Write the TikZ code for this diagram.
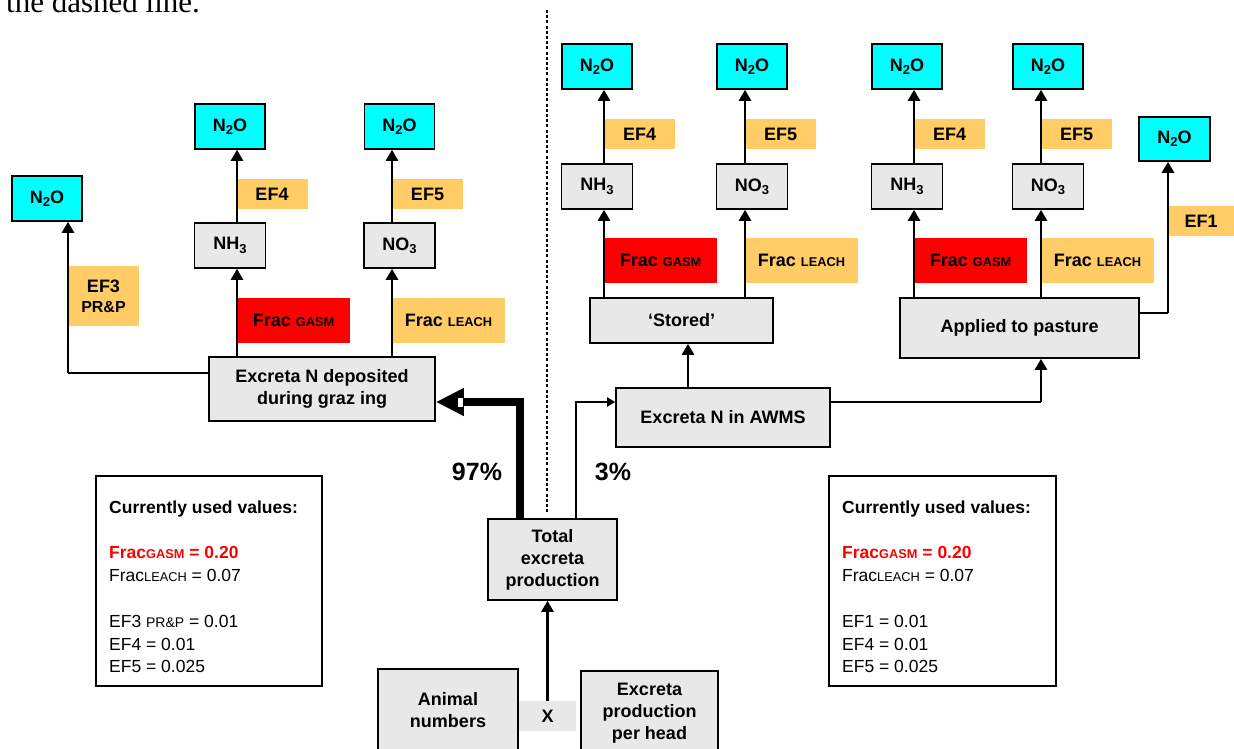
\documentclass[tikz,border=0pt]{standalone}
\usepackage{fontspec}
\setmainfont{Liberation Sans}
\newfontfamily\seriffont{Liberation Serif}
\usetikzlibrary{arrows.meta}
\definecolor{cyanbox}{HTML}{00FFFF}
\definecolor{greybox}{HTML}{E8E8E8}
\definecolor{orangebox}{HTML}{FFCC66}
\definecolor{redbox}{HTML}{FF0000}
\definecolor{redtext}{HTML}{FF0000}
\newcommand\lsub[1]{\raisebox{-0.35ex}{\fontsize{13}{13}\selectfont #1}}
\newcommand\smcap[1]{{\fontsize{12.8}{12.8}\selectfont #1}}
\begin{document}
\begin{tikzpicture}[x=1pt,y=-1pt,
  base/.style={font=\fontsize{18}{22}\selectfont\bfseries, inner sep=0pt, align=center, text=black},
  gasbox/.style={base, draw=black, line width=1.6pt, fill=cyanbox, minimum width=70pt, minimum height=45pt},
  greyb/.style={base, draw=black, line width=1.6pt, fill=greybox},
  chem/.style={greyb, minimum width=71pt, minimum height=45pt},
  lab/.style={base, fill=orangebox, minimum height=30pt, minimum width=71pt},
  fraclab/.style={base, minimum height=45pt, minimum width=113pt},
  conn/.style={line width=2.6pt, -{Triangle[width=12pt,length=11pt]}},
  hline/.style={line width=1.7pt},
  valtext/.style={font=\fontsize{17.5}{21}\selectfont, anchor=base west, inner sep=0pt},
  valbox/.style={draw=black, line width=1.4pt, fill=white, minimum width=226pt, minimum height=210pt, inner sep=0pt},
  pct/.style={font=\fontsize{25}{25}\selectfont\bfseries, inner sep=0pt}
]
\useasboundingbox (0,0) rectangle (1234,749);
\fill[white] (0,0) rectangle (1234,749);

% top text
\node[font=\seriffont\fontsize{31}{31}\selectfont, anchor=base west, inner sep=0pt] (toptext) at (6,12.5) {the dashed line.};

% ---------- left section ----------
\node[gasbox] (n2oA) at (47,198.5) {N\lsub{2}O};
\node[gasbox] (n2oB) at (230,126.5) {N\lsub{2}O};
\node[gasbox] (n2oC) at (399.5,126.5) {N\lsub{2}O};
\node[lab, minimum height=60pt] (ef3) at (103.5,296) {EF3\\[-2pt]{\fontsize{16}{18}\selectfont PR\&P}};
\node[chem] (nh3L) at (230,245.5) {NH\lsub{3}};
\node[chem] (no3L) at (399.5,245.5) {NO\lsub{3}};
\node[lab] (ef4L) at (272,194) {EF4};
\node[lab] (ef5L) at (427.5,194) {EF5};
\node[fraclab, fill=redbox] (gasmL) at (293.5,320.5) {Frac \smcap{GASM}};
\node[fraclab, fill=orangebox] (leachL) at (448.5,320.5) {Frac \smcap{LEACH}};
\node[greyb, minimum width=226pt, minimum height=64pt] (dep) at (322,389) {Excreta N deposited\\during graz ing};

% ---------- middle ----------
\node[greyb, minimum width=129pt, minimum height=81pt] (total) at (552.5,559.5) {Total\\excreta\\production};
\node[greyb, minimum width=140pt, minimum height=82pt] (animal) at (448,710) {Animal\\numbers};
\node[greyb, minimum width=137pt, minimum height=84pt] (perhead) at (649.5,713) {Excreta\\production\\per head};
\node[base, fill=greybox, minimum width=57pt, minimum height=30pt] (xbox) at (547.5,716) {X};
\node[pct] (p97) at (477,472) {97\%};
\node[pct] (p3) at (613,472) {3\%};

% ---------- right section ----------
\node[greyb, minimum width=214pt, minimum height=59pt] (awms) at (723,417.5) {Excreta N in AWMS};
\node[greyb, minimum width=183pt, minimum height=45pt] (stored) at (681.5,320.5) {‘Stored’};
\node[greyb, minimum width=239pt, minimum height=60pt] (applied) at (1019.5,328) {Applied to pasture};

\node[gasbox] (n2oD) at (597,66.5) {N\lsub{2}O};
\node[gasbox] (n2oE) at (752,66.5) {N\lsub{2}O};
\node[gasbox] (n2oF) at (907,66.5) {N\lsub{2}O};
\node[gasbox] (n2oG) at (1048,66.5) {N\lsub{2}O};
\node[gasbox, minimum width=71pt, minimum height=44pt] (n2oH) at (1174.5,139) {N\lsub{2}O};

\node[chem] (nh3R1) at (597,186.5) {NH\lsub{3}};
\node[chem] (no3R1) at (752,186.5) {NO\lsub{3}};
\node[chem] (nh3R2) at (907,186.5) {NH\lsub{3}};
\node[chem] (no3R2) at (1048,186.5) {NO\lsub{3}};

\node[lab] (ef4R1) at (639.5,134) {EF4};
\node[lab] (ef5R1) at (780.5,134) {EF5};
\node[lab] (ef4R2) at (949.5,134) {EF4};
\node[lab] (ef5R2) at (1076.5,134) {EF5};
\node[lab, minimum width=66pt] (ef1) at (1201,221) {EF1};

\node[fraclab, fill=redbox] (gasmR1) at (660.5,260.5) {Frac \smcap{GASM}};
\node[fraclab, fill=orangebox] (leachR1) at (801.5,260.5) {Frac \smcap{LEACH}};
\node[fraclab, fill=redbox] (gasmR2) at (970.5,260.5) {Frac \smcap{GASM}};
\node[fraclab, fill=orangebox] (leachR2) at (1097.5,260.5) {Frac \smcap{LEACH}};

% ---------- value boxes ----------
\node[valbox] (valL) at (209,581) {};
\node[valtext, font=\fontsize{17.5}{21}\selectfont\bfseries] (vL1) at (109,513) {Currently used values:};
\node[valtext, font=\fontsize{17.5}{21}\selectfont\bfseries, text=redtext] (vL2) at (109,558) {Frac\smcap{GASM} = 0.20};
\node[valtext] (vL3) at (109,581) {Frac\smcap{LEACH} = 0.07};
\node[valtext] (vL4) at (109,627) {EF3 {\fontsize{14}{14}\selectfont PR\&P} = 0.01};
\node[valtext] (vL5) at (109,650) {EF4 = 0.01};
\node[valtext] (vL6) at (109,672) {EF5 = 0.025};

\node[valbox, minimum width=227pt] (valR) at (942.5,581) {};
\node[valtext, font=\fontsize{17.5}{21}\selectfont\bfseries] (vR1) at (842,513) {Currently used values:};
\node[valtext, font=\fontsize{17.5}{21}\selectfont\bfseries, text=redtext] (vR2) at (842,558) {Frac\smcap{GASM} = 0.20};
\node[valtext] (vR3) at (842,581) {Frac\smcap{LEACH} = 0.07};
\node[valtext] (vR4) at (842,627) {EF1 = 0.01};
\node[valtext] (vR5) at (842,650) {EF4 = 0.01};
\node[valtext] (vR6) at (842,672) {EF5 = 0.025};

% ---------- connectors ----------
% dashed divider
\coordinate (d1) at (547,10);
\coordinate (d2) at (547,513);
\draw[line width=2.2pt, dash pattern=on 3pt off 2.2pt] (d1) -- (d2);

% left
\coordinate (cA) at (68,373);
\draw[hline] (dep.west |- cA) -- (cA);
\draw[conn] (cA) -- (cA |- n2oA.south);
\coordinate (l1) at (237,0);
\coordinate (l2) at (392,0);
\draw[conn] (l1 |- dep.north) -- (l1 |- nh3L.south);
\draw[conn] (l1 |- nh3L.north) -- (l1 |- n2oB.south);
\draw[conn] (l2 |- dep.north) -- (l2 |- no3L.south);
\draw[conn] (l2 |- no3L.north) -- (l2 |- n2oC.south);

% total -> deposited (97%)
\coordinate (t1) at (520,402);
\draw[line width=8.5pt, line join=miter, -{Triangle[width=26pt,length=28pt]}] (t1 |- total.north) -- (t1) -- (dep.east |- t1);
\fill[white] (458,397.5) rectangle (462.5,406.5);

% total -> AWMS (3%)
\coordinate (t2) at (576,402);
\draw[line width=1.9pt, -{Triangle[width=9pt,length=8pt]}] (t2 |- total.north) -- (t2) -- (awms.west |- t2);

% X -> total
\draw[conn] (xbox.north) -- (xbox.north |- total.south);

% AWMS -> stored
\coordinate (l5) at (688,0);
\draw[conn] (l5 |- awms.north) -- (l5 |- stored.south);
% AWMS -> applied
\coordinate (t3) at (1041,402);
\draw[hline] (awms.east |- t3) -- (t3);
\draw[conn] (t3) -- (t3 |- applied.south);
% applied -> N2O (EF1)
\coordinate (t4) at (1168,313);
\draw[hline] (applied.east |- t4) -- (t4);
\draw[conn] (t4) -- (t4 |- n2oH.south);

% stored branches
\coordinate (r1) at (604,0);
\coordinate (r2) at (745,0);
\draw[conn] (r1 |- stored.north) -- (r1 |- nh3R1.south);
\draw[conn] (r1 |- nh3R1.north) -- (r1 |- n2oD.south);
\draw[conn] (r2 |- stored.north) -- (r2 |- no3R1.south);
\draw[conn] (r2 |- no3R1.north) -- (r2 |- n2oE.south);
% applied branches
\coordinate (r3) at (914,0);
\coordinate (r4) at (1041,0);
\draw[conn] (r3 |- applied.north) -- (r3 |- nh3R2.south);
\draw[conn] (r3 |- nh3R2.north) -- (r3 |- n2oF.south);
\draw[conn] (r4 |- applied.north) -- (r4 |- no3R2.south);
\draw[conn] (r4 |- no3R2.north) -- (r4 |- n2oG.south);
\end{tikzpicture}
\end{document}
